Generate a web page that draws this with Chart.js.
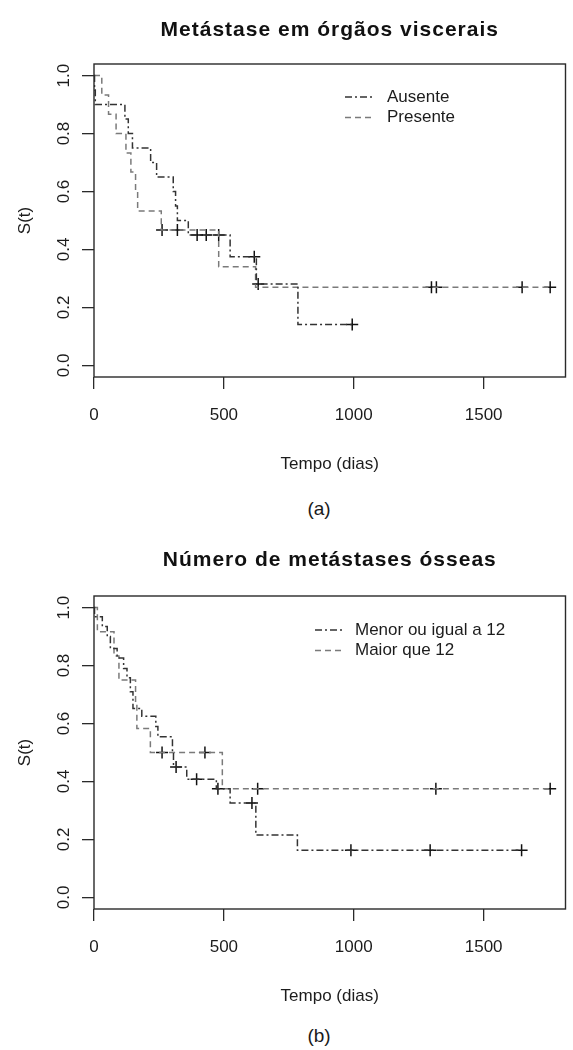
<!DOCTYPE html>
<html><head><meta charset="utf-8">
<script src="https://cdn.jsdelivr.net/npm/chart.js@4.4.0/dist/chart.umd.min.js"></script>
<style>
html,body{margin:0;padding:0;background:#fff}
body{width:573px;height:1050px;position:relative;overflow:hidden;font-family:"Liberation Sans",Arial,sans-serif}
.wrap{position:absolute;left:0;width:573px;height:490px}
.cap{position:absolute;font-size:19px;color:#1a1a1a;transform:translate(-50%,-50%);white-space:nowrap}
</style></head><body>
<div class="wrap" style="top:0"><canvas id="c1" width="573" height="490"></canvas></div>
<div class="wrap" style="top:532px"><canvas id="c2" width="573" height="490"></canvas></div>
<div class="cap" style="left:319px;top:509px">(a)</div>
<div class="cap" style="left:319px;top:1036px">(b)</div>
<script>
// ---------- data ----------
const xTickValues = [0, 500, 1000, 1500];
const xTickLabels = ['0', '500', '1000', '1500'];
const yTickValues = [0, 0.2, 0.4, 0.6, 0.8, 1.0];
const yTickLabels = ['0.0', '0.2', '0.4', '0.6', '0.8', '1.0'];

// (a) Metástase em órgãos viscerais
const titleA = 'Metástase em órgãos viscerais';
const labelsA = ['Ausente', 'Presente'];
const ausenteTime = [0, 2, 5, 119, 132, 148, 218, 241, 305, 314, 321, 363, 524, 625, 785, 994];
const ausenteSurv = [1.0, 0.95, 0.9, 0.85, 0.8, 0.75, 0.7, 0.65, 0.6, 0.55, 0.5, 0.45, 0.375, 0.281, 0.141, 0.141];
const ausenteCensTime = [397, 432, 480, 617, 632, 994];
const ausenteCensSurv = [0.45, 0.45, 0.45, 0.375, 0.281, 0.141];
const presenteTime = [0, 30, 56, 85, 123, 142, 160, 168, 259, 480, 622, 1756];
const presenteSurv = [1.0, 0.933, 0.867, 0.8, 0.733, 0.667, 0.6, 0.533, 0.467, 0.34, 0.27, 0.27];
const presenteCensTime = [262, 321, 1299, 1318, 1648, 1756];
const presenteCensSurv = [0.467, 0.467, 0.27, 0.27, 0.27, 0.27];

// (b) Número de metástases ósseas
const titleB = 'Número de metástases ósseas';
const labelsB = ['Menor ou igual a 12', 'Maior que 12'];
const menorTime = [0, 2, 32, 51, 63, 89, 114, 127, 140, 150, 184, 238, 246, 302, 306, 357, 471, 524, 623, 783, 1646];
const menorSurv = [1.0, 0.968, 0.935, 0.9, 0.859, 0.826, 0.79, 0.758, 0.71, 0.652, 0.625, 0.59, 0.554, 0.5, 0.45, 0.408, 0.375, 0.326, 0.215, 0.163, 0.163];
const menorCensTime = [316, 395, 477, 608, 989, 1294, 1646];
const menorCensSurv = [0.45, 0.408, 0.375, 0.326, 0.163, 0.163, 0.163];
const maiorTime = [0, 13, 77, 96, 160, 165, 217, 494, 1756];
const maiorSurv = [1.0, 0.917, 0.833, 0.75, 0.667, 0.583, 0.5, 0.375, 0.375];
const maiorCensTime = [262, 427, 630, 1316, 1756];
const maiorCensSurv = [0.5, 0.5, 0.375, 0.375, 0.375];

// ---------- drawing ----------
const FONT = '"Liberation Sans", Arial, Helvetica, sans-serif';
const INK = '#1c1c1c';
const AXF = 17;
const DASHDOT = [7, 3, 2, 3];
const DASHED = [6, 4];
const pts = (t, s) => t.map((v, i) => ({x: v, y: s[i]}));

const rDeco = {
  id: 'rdeco',
  afterDraw(chart, args, o) {
    const {ctx, chartArea: a} = chart;
    const y = chart.scales.y;
    ctx.save();
    ctx.setLineDash([]);
    ctx.strokeStyle = '#2a2a2a';
    ctx.lineWidth = 1.4;
    ctx.strokeRect(a.left, a.top, a.right - a.left, a.bottom - a.top);
    // main title
    ctx.fillStyle = '#111';
    ctx.font = 'bold 21px ' + FONT;
    ctx.textAlign = 'center';
    ctx.textBaseline = 'middle';
    if ('letterSpacing' in ctx) ctx.letterSpacing = '1px';
    ctx.fillText(o.title, (a.left + a.right) / 2, o.titleY);
    if ('letterSpacing' in ctx) ctx.letterSpacing = '0px';
    // rotated y tick labels
    ctx.fillStyle = INK;
    ctx.font = AXF + 'px ' + FONT;
    yTickValues.forEach((v, i) => {
      ctx.save();
      ctx.translate(o.yLabelX, y.getPixelForValue(v));
      ctx.rotate(-Math.PI / 2);
      ctx.fillText(yTickLabels[i], 0, 0);
      ctx.restore();
    });
    // legend
    ctx.textAlign = 'left';
    ctx.font = o.legendFont + 'px ' + FONT;
    [0, 1].forEach(i => {
      const ds = chart.data.datasets[i];
      const ly = a.top + o.legendTop + i * o.legendGap;
      ctx.strokeStyle = ds.borderColor;
      ctx.lineWidth = 1.5;
      ctx.setLineDash(ds.borderDash);
      ctx.beginPath();
      ctx.moveTo(o.sx0, ly);
      ctx.lineTo(o.sx1, ly);
      ctx.stroke();
      ctx.fillStyle = INK;
      ctx.fillText(ds.label, o.tx, ly);
    });
    ctx.restore();
  }
};

function makeChart(id, labels, s1, s2, c1, c2, deco) {
  const lineDs = (label, data, color, dash) => ({
    label, data, borderColor: color, borderDash: dash, borderWidth: 1.5,
    stepped: true, pointRadius: 0, fill: false, tension: 0
  });
  const censDs = (data) => ({
    label: '', data, showLine: false, pointStyle: 'cross', pointRadius: 6,
    pointBorderColor: '#111', pointBorderWidth: 1.5, pointBackgroundColor: '#111',
    borderColor: '#111'
  });
  return new Chart(document.getElementById(id), {
    type: 'line',
    data: {
      datasets: [
        lineDs(labels[0], s1, '#333333', DASHDOT),
        lineDs(labels[1], s2, '#7a7a7a', DASHED),
        censDs(c1), censDs(c2)
      ]
    },
    options: {
      responsive: false, animation: false, events: [],
      layout: {padding: {left: 10.8, right: 1, top: 64, bottom: 11}},
      plugins: {
        legend: {display: false}, tooltip: {enabled: false}, title: {display: false},
        rdeco: deco
      },
      scales: {
        x: {
          type: 'linear', position: 'bottom', min: 0, max: 1815,
          afterBuildTicks: s => { s.ticks = xTickValues.map(v => ({value: v})); },
          afterFit: s => { s.height = 102; },
          border: {display: false},
          grid: {drawOnChartArea: false, drawTicks: true, tickLength: 12, color: '#2a2a2a', lineWidth: 1.3},
          ticks: {padding: 16, color: INK, font: {family: FONT, size: AXF}, maxRotation: 0, autoSkip: false,
            callback: (v, i) => xTickLabels[i]},
          title: {display: true, text: 'Tempo (dias)', color: INK, font: {family: FONT, size: AXF}, padding: {top: 4, bottom: 4}}
        },
        y: {
          type: 'linear', position: 'left', min: -0.04, max: 1.04,
          afterBuildTicks: s => { s.ticks = yTickValues.map(v => ({value: v})); },
          afterFit: s => { s.width = 83.2; },
          border: {display: false},
          grid: {drawOnChartArea: false, drawTicks: true, tickLength: 12, color: '#2a2a2a', lineWidth: 1.3},
          ticks: {display: false},
          title: {display: true, text: 'S(t)', color: INK, font: {family: FONT, size: AXF}, padding: {top: 4, bottom: 4}}
        }
      }
    },
    plugins: [rDeco]
  });
}

makeChart('c1', labelsA,
  pts(ausenteTime, ausenteSurv), pts(presenteTime, presenteSurv),
  pts(ausenteCensTime, ausenteCensSurv), pts(presenteCensTime, presenteCensSurv),
  {title: titleA, titleY: 30, yLabelX: 64, legendFont: 17, legendTop: 33, legendGap: 20.5, sx0: 345, sx1: 372, tx: 387});
makeChart('c2', labelsB,
  pts(menorTime, menorSurv), pts(maiorTime, maiorSurv),
  pts(menorCensTime, menorCensSurv), pts(maiorCensTime, maiorCensSurv),
  {title: titleB, titleY: 28, yLabelX: 64, legendFont: 17, legendTop: 34, legendGap: 20.5, sx0: 315, sx1: 343, tx: 355});
</script>
</body></html>
